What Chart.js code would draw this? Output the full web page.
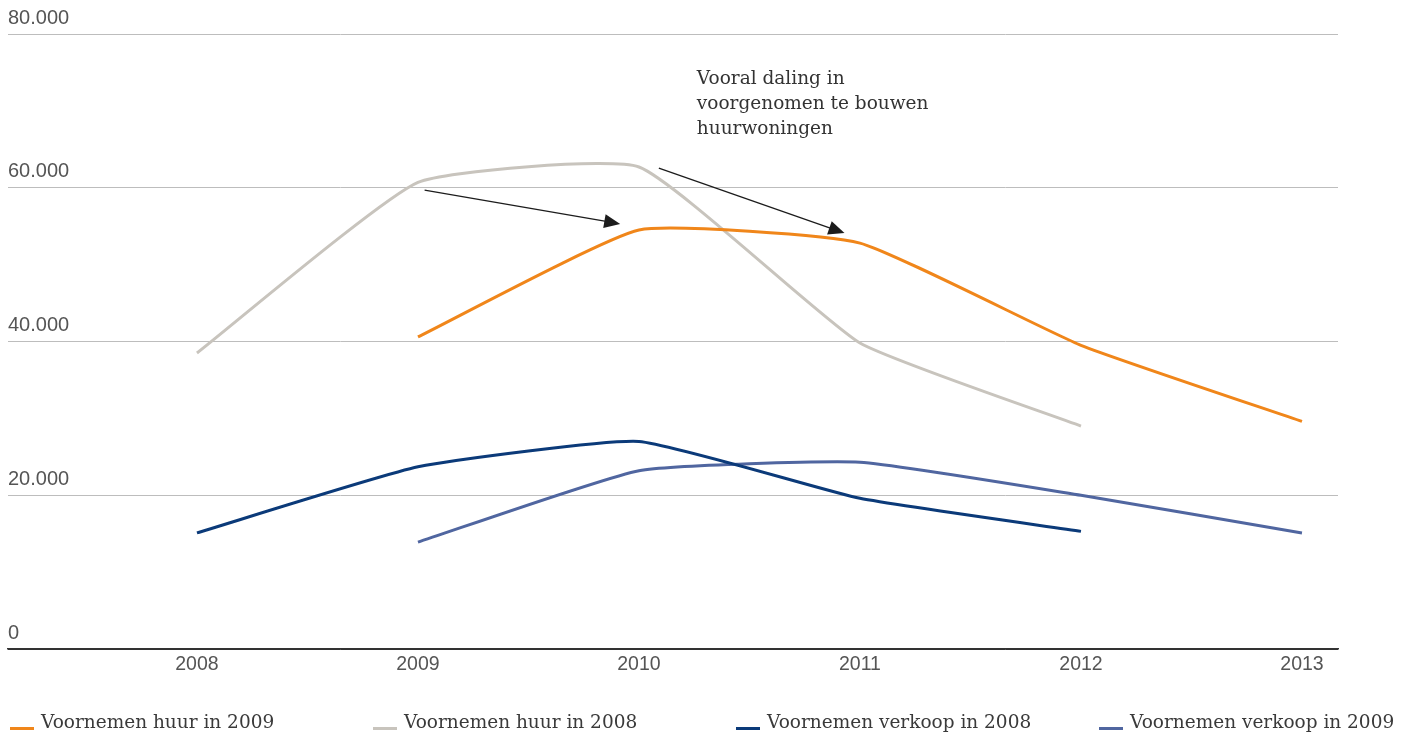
<!DOCTYPE html>
<html lang="nl">
<head>
<meta charset="utf-8">
<title>Voornemens huur en verkoop</title>
<script src="https://cdn.jsdelivr.net/npm/chart.js@4/dist/chart.umd.min.js"></script>
<style>
  html, body { margin: 0; padding: 0; background: #fff; }
  #wrap { position: relative; width: 1408px; height: 733px; overflow: hidden; }
  #legend { position: absolute; left: 10px; top: 711px; display: flex; font-family: "DejaVu Serif", serif; font-size: 18.5px; color: #3a3a3a; }
  #legend .item { width: 363px; display: flex; align-items: center; white-space: nowrap; }
  #legend .mark { width: 24px; height: 3px; margin-right: 7px; margin-top: 13px; }
</style>
</head>
<body>
<div id="wrap">
  <canvas id="lijnen"></canvas>
  <div id="legend"></div>
</div>
<script>
let years = [2008, 2009, 2010, 2011, 2012, 2013];

// aantallen per jaar, null = geen voornemen bekend
let huur2009 = [null, 40600, 54500, 52800, 39500, 29600];
let huur2008 = [38500, 60700, 62700, 39800, 29000, null];
let verkoop2008 = [15100, 23700, 27000, 19600, 15300, null];
let verkoop2009 = [null, 13900, 23200, 24300, 20000, 15100];

let yTicks = [0, 20000, 40000, 60000, 80000];

let noteLines = ["Vooral daling in", "voorgenomen te bouwen", "huurwoningen"];
let notePos = { x: 2010.262, y: 74150 };

// pijlen: [van jaar, van aantal, naar jaar, naar aantal]
let arrows = [
  [2009.03, 59700, 2009.915, 55300],
  [2010.09, 62550, 2010.93, 54100],
];

let series = [
  { label: "Voornemen huur in 2009", values: huur2009, color: "#f0861a" },
  { label: "Voornemen huur in 2008", values: huur2008, color: "#c8c4bd" },
  { label: "Voornemen verkoop in 2008", values: verkoop2008, color: "#0b3a79" },
  { label: "Voornemen verkoop in 2009", values: verkoop2009, color: "#5066a0" },
];

function points(values) {
  let out = [];
  values.forEach((v, i) => {
    if (v !== null) out.push({ x: years[i], y: v });
  });
  return out;
}

function nlNumber(v) {
  return String(v).replace(/\B(?=(\d{3})+(?!\d))/g, ".");
}

let notePlugin = {
  id: "note",
  afterDatasetsDraw(chart) {
    let ctx = chart.ctx;
    let xs = chart.scales.x;
    let ys = chart.scales.y;
    ctx.save();
    ctx.strokeStyle = "#1c1c1c";
    ctx.fillStyle = "#1c1c1c";
    ctx.lineWidth = 1.3;
    arrows.forEach((a) => {
      let x1 = xs.getPixelForValue(a[0]);
      let y1 = ys.getPixelForValue(a[1]);
      let x2 = xs.getPixelForValue(a[2]);
      let y2 = ys.getPixelForValue(a[3]);
      let ang = Math.atan2(y2 - y1, x2 - x1);
      let head = 16;
      let half = 7;
      ctx.beginPath();
      ctx.moveTo(x1, y1);
      ctx.lineTo(x2 - Math.cos(ang) * head * 0.8, y2 - Math.sin(ang) * head * 0.8);
      ctx.stroke();
      ctx.beginPath();
      ctx.moveTo(x2, y2);
      ctx.lineTo(x2 - head * Math.cos(ang) + half * Math.sin(ang), y2 - head * Math.sin(ang) - half * Math.cos(ang));
      ctx.lineTo(x2 - head * Math.cos(ang) - half * Math.sin(ang), y2 - head * Math.sin(ang) + half * Math.cos(ang));
      ctx.closePath();
      ctx.fill();
    });
    ctx.fillStyle = "#333";
    ctx.font = '18.5px "DejaVu Serif", serif';
    ctx.textBaseline = "middle";
    let nx = xs.getPixelForValue(notePos.x);
    let ny = ys.getPixelForValue(notePos.y);
    noteLines.forEach((t, i) => ctx.fillText(t, nx, ny + i * 25));
    ctx.restore();
  },
};

new Chart(document.getElementById("lijnen"), {
  type: "line",
  data: {
    datasets: series.map((s) => ({
      label: s.label,
      data: points(s.values),
      borderColor: s.color,
      backgroundColor: s.color,
      borderWidth: 3,
      pointRadius: 0,
      tension: 0.14,
      fill: false,
    })),
  },
  options: {
    responsive: true,
    maintainAspectRatio: false,
    animation: false,
    layout: { padding: { left: 8, right: 70, top: 34, bottom: 54 } },
    plugins: { legend: { display: false }, tooltip: { enabled: false } },
    scales: {
      x: {
        type: "linear",
        min: 2007.145,
        max: 2013.163,
        afterFit: (scale) => { scale.height = 30; },
        afterBuildTicks: (scale) => { scale.ticks = years.map((y) => ({ value: y })); },
        grid: { display: false, drawTicks: false },
        border: { display: true, color: "#333", width: 1.5 },
        ticks: {
          padding: 4,
          color: "#555",
          font: { family: '"Liberation Sans", sans-serif', size: 19.5 },
          callback: (v) => String(v),
        },
      },
      y: {
        min: 0,
        max: 80000,
        afterFit: (scale) => { scale.width = 0; },
        afterBuildTicks: (scale) => { scale.ticks = yTicks.map((v) => ({ value: v })); },
        grid: {
          drawTicks: false,
          color: (c) => (c.tick && c.tick.value === 0 ? "#333" : "#bdbdbd"),
          lineWidth: 1,
        },
        border: { display: false },
        ticks: {
          mirror: true,
          padding: 0,
          labelOffset: -16,
          color: "#555",
          font: { family: '"Liberation Sans", sans-serif', size: 20 },
          callback: (v) => nlNumber(v),
        },
      },
    },
  },
  plugins: [notePlugin],
});

let legend = document.getElementById("legend");
series.forEach((s) => {
  let item = document.createElement("div");
  item.className = "item";
  let mark = document.createElement("span");
  mark.className = "mark";
  mark.style.background = s.color;
  let text = document.createElement("span");
  text.textContent = s.label;
  item.appendChild(mark);
  item.appendChild(text);
  legend.appendChild(item);
});
</script>
</body>
</html>
